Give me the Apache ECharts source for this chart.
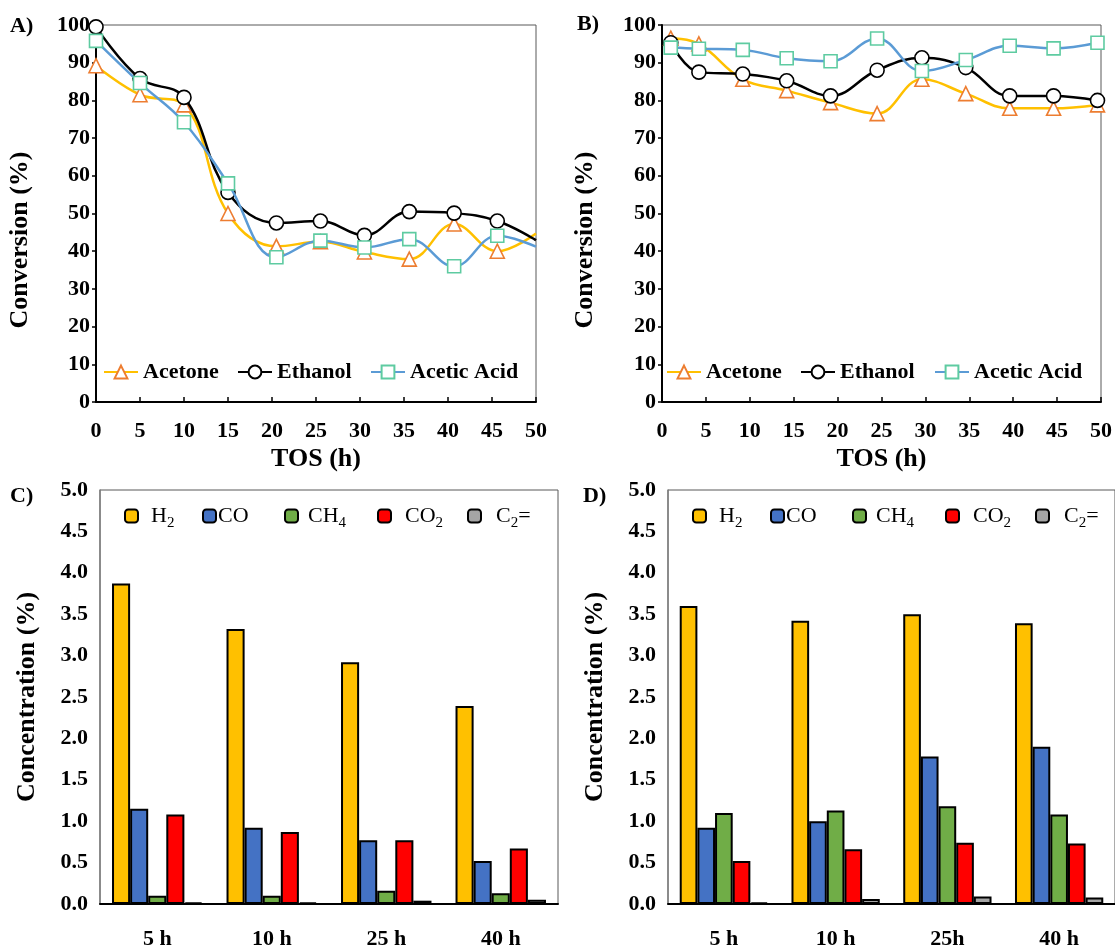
<!DOCTYPE html>
<html><head><meta charset="utf-8">
<script src="https://cdn.jsdelivr.net/npm/echarts@6/dist/echarts.min.js"></script>
<style>html,body{margin:0;padding:0;background:#fff}#c{width:1115px;height:950px}</style>
</head><body><div id="c"></div>
<script>
// ---- Data ----
const tosA = [0, 5, 10, 15, 20.5, 25.5, 30.5, 35.6, 40.7, 45.6, 50];
const acetoneA = [89.2, 81.5, 78.8, 50.0, 41.3, 42.5, 39.8, 37.9, 47.2, 40.0, 44.7];
const ethanolA = [99.5, 85.8, 80.8, 55.6, 47.5, 48.0, 44.2, 50.5, 50.1, 48.0, 42.9];
const aceticA  = [95.8, 84.6, 74.2, 58.0, 38.4, 42.8, 41.0, 43.2, 36.0, 44.1, 41.2];
const markerA  = [1, 1, 1, 1, 1, 1, 1, 1, 1, 1, 0];

const tosB = [1, 4.2, 9.2, 14.2, 19.2, 24.5, 29.6, 34.6, 39.6, 44.6, 49.6];
const acetoneB = [96.5, 95.0, 85.6, 82.6, 79.4, 76.5, 85.6, 81.8, 77.9, 77.9, 78.8];
const ethanolB = [95.3, 87.5, 87.0, 85.2, 81.2, 88.0, 91.3, 88.7, 81.2, 81.2, 80.0];
const aceticB  = [94.0, 93.7, 93.4, 91.2, 90.4, 96.4, 87.8, 90.7, 94.5, 93.8, 95.3];

const lineNames = ['Acetone', 'Ethanol', 'Acetic Acid'];

const gases = ['H2', 'CO', 'CH4', 'CO2', 'C2='];
const timesC = ['5 h', '10 h', '25 h', '40 h'];
const timesD = ['5 h', '10 h', '25h', '40 h'];
const h2C  = [3.87, 3.32, 2.92, 2.39];
const coC  = [1.15, 0.92, 0.77, 0.52];
const ch4C = [0.10, 0.10, 0.16, 0.13];
const co2C = [1.08, 0.87, 0.77, 0.67];
const c2C  = [0.02, 0.02, 0.04, 0.05];
const h2D  = [3.60, 3.42, 3.50, 3.39];
const coD  = [0.92, 1.00, 1.78, 1.90];
const ch4D = [1.10, 1.13, 1.18, 1.08];
const co2D = [0.52, 0.66, 0.74, 0.73];
const c2D  = [0.02, 0.06, 0.09, 0.08];

// ---- Styles ----
const FONT = '"Liberation Serif", "Times New Roman", serif';
const lineStyles = [
  {line: '#FFC000', symbol: 'triangle', border: '#ED7D31', size: 14},
  {line: '#000000', symbol: 'circle', border: '#000000', size: 14},
  {line: '#5B9BD5', symbol: 'rect', border: '#5ECBA1', size: 13}
];
const gasColors = ['#FFC000', '#4472C4', '#70AD47', '#FF0000', '#A5A5A5'];
const gasRich = {
  H2: '{n|H}{s|2}', CO: '{n|CO}', CH4: '{n|CH}{s|4}', CO2: '{n|CO}{s|2}', 'C2=': '{n|C}{s|2}{n|=}'
};

const chart = echarts.init(document.getElementById('c'), null, {renderer: 'canvas'});

const grids = [
  {left: 96, top: 25, width: 440, height: 377},
  {left: 662, top: 25, width: 439, height: 377},
  {left: 100, top: 490, width: 458, height: 416},
  {left: 668, top: 490, width: 458, height: 416}
].map(g => Object.assign({show: true, borderColor: '#595959', borderWidth: 1, backgroundColor: 'transparent'}, g));

function lineXAxis(gi) {
  return {
    type: 'value', gridIndex: gi, min: 0, max: 50, interval: 5,
    name: 'TOS (h)', nameLocation: 'middle', nameGap: 44,
    nameTextStyle: {fontFamily: FONT, fontWeight: 'bold', fontSize: 26, color: '#000'},
    axisLine: {show: true, onZero: false, lineStyle: {color: '#000', width: 2}},
    axisTick: {show: true, inside: true, length: 5, lineStyle: {color: '#000', width: 1.5}},
    axisLabel: {fontFamily: FONT, fontWeight: 'bold', fontSize: 22, color: '#000', margin: 18},
    splitLine: {show: false}
  };
}
function lineYAxis(gi) {
  return {
    type: 'value', gridIndex: gi, min: 0, max: 100, interval: 10,
    axisLine: {show: true, lineStyle: {color: '#000', width: 2}},
    axisTick: {show: true, length: 4, lineStyle: {color: '#000', width: 1.5}},
    axisLabel: {fontFamily: FONT, fontWeight: 'bold', fontSize: 22, color: '#000', margin: 6},
    splitLine: {show: false}
  };
}
function barXAxis(gi, cats) {
  return {
    type: 'category', gridIndex: gi, data: cats,
    axisLine: {show: true, lineStyle: {color: '#000', width: 2}},
    axisTick: {show: false},
    axisLabel: {fontFamily: FONT, fontWeight: 'bold', fontSize: 22, color: '#000', margin: 24},
    splitLine: {show: false}
  };
}
function barYAxis(gi) {
  return {
    type: 'value', gridIndex: gi, min: 0, max: 5, interval: 0.5,
    name: 'Concentration (%)', nameLocation: 'middle', nameGap: 60,
    nameTextStyle: {fontFamily: FONT, fontWeight: 'bold', fontSize: 26, color: '#000'},
    axisLine: {show: true, lineStyle: {color: '#808080', width: 1.5}},
    axisTick: {show: false},
    axisLabel: {fontFamily: FONT, fontWeight: 'bold', fontSize: 22, color: '#000', margin: 12,
      formatter: v => v.toFixed(1)},
    splitLine: {show: false}
  };
}

const series = [];
function addLines(gi, xs, arrs, marks, prefix) {
  arrs.forEach((arr, k) => {
    const st = lineStyles[k];
    series.push({
      type: 'line', name: lineNames[k], id: prefix + k,
      xAxisIndex: gi, yAxisIndex: gi,
      smooth: 0.4,
      symbol: st.symbol, symbolSize: st.size, showAllSymbol: true,
      lineStyle: {color: st.line, width: 2.5},
      itemStyle: {color: '#fff', borderColor: st.border, borderWidth: 1.6},
      data: arr.map((v, i) => marks && !marks[i]
        ? {value: [xs[i], v], symbol: 'none'}
        : [xs[i], v]),
      z: 3 + k
    });
  });
}
addLines(0, tosA, [acetoneA, ethanolA, aceticA], markerA, 'a');
addLines(1, tosB, [acetoneB, ethanolB, aceticB], null, 'b');

function addBars(gi, arrs, prefix) {
  arrs.forEach((arr, k) => {
    series.push({
      type: 'bar', name: gases[k], id: prefix + k,
      xAxisIndex: gi, yAxisIndex: gi,
      barGap: '0%', barCategoryGap: '21%',
      itemStyle: {color: gasColors[k], borderColor: '#000', borderWidth: 2},
      data: arr
    });
  });
}
addBars(2, [h2C, coC, ch4C, co2C, c2C], 'c');
addBars(3, [h2D, coD, ch4D, co2D, c2D], 'd');

// legends
const legends = [];
const lineLegPos = [[[103, 361], [237, 361], [370, 361]], [[666, 361], [800, 361], [934, 361]]];
lineLegPos.forEach((pp) => {
  pp.forEach((p, k) => {
    legends.push({
      data: [lineNames[k]], left: p[0], top: p[1], orient: 'horizontal', padding: 0,
      itemWidth: 34, itemHeight: 16, itemGap: 0,
      textStyle: {fontFamily: FONT, fontWeight: 'bold', fontSize: 22, color: '#000'},
      selectedMode: false
    });
  });
});
const barLegX = [[124, 202, 284, 377, 467], [692, 770, 852, 945, 1035]];
const barTextPad = [8, -3, 5, 9, 10];
barLegX.forEach((xs) => {
  xs.forEach((x, k) => {
    legends.push({
      data: [gases[k]], left: x, top: 505, padding: 0,
      itemWidth: 13, itemHeight: 13, itemGap: 0,
      itemStyle: {borderColor: '#000', borderWidth: 2},
      formatter: n => gasRich[n],
      textStyle: {
        fontFamily: FONT, fontSize: 22, color: '#000',
        padding: [0, 0, 0, barTextPad[k]],
        rich: {
          n: {fontFamily: FONT, fontSize: 22, color: '#000'},
          s: {fontFamily: FONT, fontSize: 15, color: '#000', padding: [14, 0, 0, 0]}
        }
      },
      selectedMode: false
    });
  });
});

const lbl = (t, x, y) => ({type: 'text', left: x, top: y,
  style: {text: t, font: 'bold 22px ' + FONT, fill: '#000'}});
const vtitle = (t, x, y) => ({type: 'text', x: x, y: y, rotation: Math.PI / 2,
  style: {text: t, font: 'bold 26px ' + FONT, fill: '#000', align: 'center', verticalAlign: 'middle'}});

chart.setOption({
  animation: false,
  backgroundColor: '#fff',
  grid: grids,
  xAxis: [lineXAxis(0), lineXAxis(1), barXAxis(2, timesC), barXAxis(3, timesD)],
  yAxis: [lineYAxis(0), lineYAxis(1), barYAxis(2), barYAxis(3)],
  legend: legends,
  series: series,
  graphic: [lbl('A)', 10, 15), lbl('B)', 577, 13), lbl('C)', 10, 485), lbl('D)', 583, 485),
    vtitle('Conversion (%)', 20, 240), vtitle('Conversion (%)', 585, 240)]
});
</script></body></html>
